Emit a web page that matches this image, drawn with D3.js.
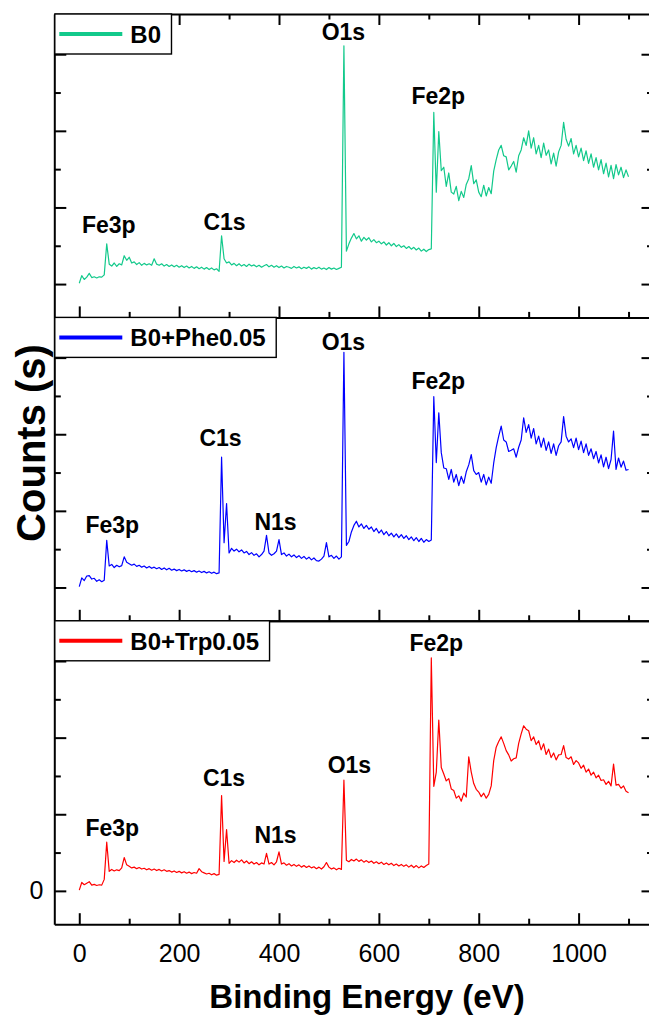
<!DOCTYPE html>
<html>
<head>
<meta charset="utf-8">
<script src="https://cdn.jsdelivr.net/npm/d3@7/dist/d3.min.js"></script>
<style>
  html, body { margin: 0; padding: 0; background: #fff; }
  svg { display: block; }
  text { font-family: "Liberation Sans", Arial, Helvetica, sans-serif; }
</style>
</head>
<body>
<svg id="chart" width="649" height="1015"></svg>
<script>
// XPS survey spectra, counts sampled on a 5 eV binding-energy grid (0 ... 1100 eV)
const energyStart = 0;
const energyStep = 5;

const countsB0 = [
  0.02, 0.22, 0.12, 0.18, 0.28, 0.17, 0.19, 0.16, 0.19, 0.18,
  0.24, 1.05, 0.52, 0.47, 0.55, 0.46, 0.53, 0.50, 0.74, 0.62,
  0.70, 0.55, 0.58, 0.51, 0.56, 0.49, 0.54, 0.50, 0.53, 0.49,
  0.66, 0.52, 0.49, 0.53, 0.47, 0.51, 0.46, 0.50, 0.45, 0.49,
  0.44, 0.48, 0.43, 0.47, 0.42, 0.46, 0.41, 0.45, 0.40, 0.44,
  0.39, 0.43, 0.38, 0.42, 0.37, 0.40, 0.33, 1.26, 0.66, 0.55,
  0.58, 0.50, 0.54, 0.48, 0.53, 0.47, 0.51, 0.46, 0.52, 0.47,
  0.50, 0.45, 0.49, 0.44, 0.48, 0.51, 0.45, 0.49, 0.44, 0.48,
  0.43, 0.47, 0.42, 0.46, 0.44, 0.41, 0.46, 0.42, 0.45, 0.40,
  0.44, 0.41, 0.45, 0.39, 0.43, 0.40, 0.44, 0.39, 0.42, 0.38,
  0.43, 0.39, 0.42, 0.38, 0.41, 0.44, 6.22, 0.86, 1.05, 1.20,
  1.32, 1.18, 1.26, 1.12, 1.22, 1.15, 1.21, 1.10, 1.16, 1.08,
  1.12, 1.05, 1.10, 1.02, 1.08, 1.00, 1.06, 0.98, 1.03, 0.96,
  1.00, 0.93, 0.98, 0.91, 0.96, 0.89, 0.94, 0.86, 0.91, 0.85,
  0.90, 0.92, 4.48, 2.40, 3.98, 2.96, 3.05, 2.55, 2.90, 2.40,
  2.35, 2.55, 2.18, 2.42, 2.26, 2.60, 2.75, 3.09, 2.62, 2.72,
  2.40, 2.28, 2.58, 2.30, 2.52, 2.36, 2.95, 3.25, 3.50, 3.62,
  3.35, 3.32, 2.98, 3.08, 3.20, 2.92, 3.35, 3.50, 3.82, 3.62,
  4.00, 3.55, 3.82, 3.40, 3.62, 3.30, 3.68, 3.36, 3.50, 3.14,
  3.42, 3.08, 3.45, 3.62, 4.22, 3.78, 3.60, 3.80, 3.40, 3.62,
  3.32, 3.55, 3.22, 3.48, 3.15, 3.40, 3.05, 3.30, 2.98, 3.25,
  2.88, 3.16, 2.80, 3.10, 2.75, 3.12, 2.85, 3.05, 2.78, 2.98,
  2.80
];

const countsPhe = [
  0.02, 0.25, 0.18, 0.30, 0.31, 0.22, 0.24, 0.16, 0.20, 0.15,
  0.19, 1.23, 0.56, 0.60, 0.52, 0.58, 0.54, 0.57, 0.80, 0.66,
  0.62, 0.58, 0.61, 0.55, 0.58, 0.53, 0.56, 0.51, 0.55, 0.50,
  0.53, 0.49, 0.52, 0.47, 0.51, 0.46, 0.50, 0.45, 0.48, 0.44,
  0.47, 0.43, 0.46, 0.42, 0.45, 0.41, 0.44, 0.40, 0.43, 0.39,
  0.42, 0.38, 0.41, 0.37, 0.40, 0.36, 0.38, 3.40, 1.17, 2.19,
  0.90, 1.02, 0.95, 1.00, 0.93, 0.98, 0.90, 0.94, 0.86, 0.91,
  0.84, 0.88, 0.80, 0.86, 0.95, 1.36, 0.90, 0.84, 0.88, 0.95,
  1.25, 0.86, 0.90, 0.82, 0.87, 0.80, 0.85, 0.78, 0.83, 0.76,
  0.81, 0.74, 0.79, 0.72, 0.77, 0.70, 0.69, 0.74, 0.82, 1.17,
  0.80, 0.84, 0.76, 0.82, 0.74, 0.80, 6.14, 1.10, 1.20, 1.45,
  1.62, 1.73, 1.58, 1.66, 1.54, 1.62, 1.52, 1.58, 1.46, 1.54,
  1.42, 1.50, 1.38, 1.46, 1.35, 1.42, 1.32, 1.40, 1.30, 1.38,
  1.28, 1.35, 1.25, 1.32, 1.22, 1.30, 1.20, 1.28, 1.18, 1.25,
  1.20, 1.24, 4.98, 3.26, 4.56, 3.52, 3.12, 3.10, 2.82, 3.08,
  2.75, 2.95, 2.66, 2.90, 2.72, 3.02, 3.20, 3.47, 3.05, 2.95,
  3.00, 2.75, 2.95, 2.68, 2.88, 2.72, 3.25, 3.65, 3.95, 4.21,
  3.85, 3.80, 3.55, 3.58, 3.62, 3.40, 3.66, 3.85, 4.43, 4.05,
  4.25, 3.90, 4.15, 3.75, 3.95, 3.66, 3.90, 3.58, 3.80, 3.50,
  3.75, 3.45, 3.70, 3.80, 4.46, 3.95, 3.80, 3.88, 3.65, 3.90,
  3.60, 3.82, 3.52, 3.75, 3.45, 3.62, 3.36, 3.55, 3.25, 3.46,
  3.15, 3.40, 3.10, 3.34, 4.08, 3.08, 3.38, 3.14, 3.30, 3.06,
  3.08
];

const countsTrp = [
  0.02, 0.22, 0.16, 0.20, 0.24, 0.15, 0.17, 0.14, 0.16, 0.15,
  0.30, 1.27, 0.51, 0.56, 0.52, 0.55, 0.53, 0.60, 0.87, 0.68,
  0.64, 0.60, 0.62, 0.58, 0.61, 0.57, 0.59, 0.55, 0.58, 0.54,
  0.57, 0.53, 0.56, 0.52, 0.55, 0.51, 0.53, 0.49, 0.52, 0.48,
  0.51, 0.47, 0.50, 0.46, 0.49, 0.45, 0.48, 0.46, 0.58, 0.50,
  0.47, 0.44, 0.46, 0.42, 0.45, 0.41, 0.43, 2.49, 0.77, 1.60,
  0.72, 0.79, 0.74, 0.80, 0.75, 0.81, 0.73, 0.78, 0.71, 0.76,
  0.70, 0.74, 0.68, 0.73, 0.70, 0.98, 0.70, 0.74, 0.68, 0.76,
  1.02, 0.70, 0.73, 0.67, 0.71, 0.65, 0.69, 0.64, 0.68, 0.62,
  0.66, 0.61, 0.65, 0.60, 0.63, 0.58, 0.62, 0.57, 0.63, 0.74,
  0.62, 0.57, 0.60, 0.55, 0.59, 0.56, 2.89, 0.80, 0.76, 0.82,
  0.78, 0.83, 0.77, 0.81, 0.75, 0.79, 0.74, 0.78, 0.72, 0.76,
  0.71, 0.75, 0.69, 0.73, 0.68, 0.72, 0.66, 0.70, 0.65, 0.69,
  0.64, 0.68, 0.62, 0.67, 0.61, 0.66, 0.60, 0.65, 0.61, 0.66,
  0.70, 6.08, 2.73, 3.10, 4.46, 3.22, 3.05, 2.87, 2.93, 2.66,
  2.62, 2.42, 2.48, 2.34, 2.55, 2.45, 3.50, 3.10, 2.80, 2.65,
  2.58, 2.46, 2.55, 2.42, 2.52, 2.74, 3.40, 3.75, 3.90, 4.02,
  3.85, 3.66, 3.55, 3.39, 3.45, 3.47, 3.85, 4.10, 4.31, 4.22,
  4.18, 3.92, 4.02, 3.82, 3.92, 3.68, 3.84, 3.56, 3.70, 3.48,
  3.60, 3.42, 3.55, 3.56, 3.79, 3.48, 3.44, 3.50, 3.30, 3.40,
  3.34, 3.20, 3.28, 3.10, 3.18, 3.02, 3.10, 2.95, 3.02, 2.88,
  2.90, 2.78, 2.86, 2.74, 3.31, 2.76, 2.78, 2.68, 2.74, 2.60,
  2.56
];

const sampleNames = ["B0", "B0+Phe0.05", "B0+Trp0.05"];
const sampleColors = ["#12c98b", "#0000ff", "#ff0000"];

// Peak annotations: [label, binding energy, counts level of the label baseline]
const peaksB0 = [["Fe3p", 59, 1.33], ["C1s", 291, 1.42], ["O1s", 529, 6.38], ["Fe2p", 719, 4.70]];
const peaksPhe = [["Fe3p", 66, 1.42], ["C1s", 283, 3.68], ["N1s", 393, 1.51], ["O1s", 529, 6.19], ["Fe2p", 719, 5.18]];
const peaksTrp = [["Fe3p", 66, 1.42], ["C1s", 290, 2.75], ["N1s", 393, 1.25], ["O1s", 541, 3.08], ["Fe2p", 715, 6.25]];

const xMajorTicks = [0, 200, 400, 600, 800, 1000];
const xMinorTicks = [100, 300, 500, 700, 900, 1100];
const yMajorTicks = [0, 2, 4, 6];
const yMinorTicks = [1, 3, 5];

const xTitle = "Binding Energy (eV)";
const yTitle = "Counts (s)";

// ---- layout ----
const svg = d3.select("#chart");
const left = 54.3, right = 653.5;
const top0 = 14, panelH = 303.4;
const fontFamily = '"Liberation Sans", Arial, Helvetica, sans-serif';

const x = d3.scaleLinear().domain([-50, 1150]).range([left, right]);

const panels = [
  { name: sampleNames[0], color: sampleColors[0], values: countsB0, peaks: peaksB0 },
  { name: sampleNames[1], color: sampleColors[1], values: countsPhe, peaks: peaksPhe },
  { name: sampleNames[2], color: sampleColors[2], values: countsTrp, peaks: peaksTrp }
];

function styleAxis(g, width) {
  g.selectAll("path.domain").attr("stroke", "#000").attr("stroke-width", width);
  g.selectAll(".tick line").attr("stroke", "#000").attr("stroke-width", 2);
}

panels.forEach((p, i) => {
  const pt = top0 + i * panelH;
  const pb = pt + panelH;
  const y = d3.scaleLinear().domain([-0.87, 7.05]).range([pb, pt]);
  const isLast = i === panels.length - 1;

  const points = p.values.map((v, k) => [energyStart + k * energyStep, v]);

  const clipId = "clip" + i;
  svg.append("clipPath").attr("id", clipId)
    .append("rect").attr("x", left).attr("y", pt).attr("width", right - left).attr("height", panelH);

  const line = d3.line().x(d => x(d[0])).y(d => y(d[1]));
  svg.append("path")
    .datum(points)
    .attr("clip-path", `url(#${clipId})`)
    .attr("fill", "none")
    .attr("stroke", p.color)
    .attr("stroke-width", 1.2)
    .attr("stroke-linejoin", "round")
    .attr("d", line);

  // peak labels
  svg.append("g").selectAll("text").data(p.peaks).join("text")
    .attr("x", d => x(d[1]))
    .attr("y", d => y(d[2]))
    .attr("text-anchor", "middle")
    .attr("font-family", fontFamily)
    .attr("font-weight", "bold")
    .attr("font-size", 23)
    .attr("fill", "#000")
    .text(d => d[0]);

  // left axis (inward ticks)
  const gl = svg.append("g").attr("transform", `translate(${left},0)`);
  gl.call(d3.axisLeft(y).tickValues(yMajorTicks).tickSize(-12).tickSizeOuter(0).tickPadding(11)
    .tickFormat(d => (isLast && d === 0) ? "0" : ""));
  gl.append("g").call(d3.axisLeft(y).tickValues(yMinorTicks).tickSize(-6.5).tickSizeOuter(0).tickFormat(""))
    .call(g => g.select("path.domain").remove());
  styleAxis(gl, 2);
  gl.selectAll("text").attr("font-family", fontFamily).attr("font-size", 25).attr("fill", "#000");

  // right axis
  const gr = svg.append("g").attr("transform", `translate(${right},0)`);
  gr.call(d3.axisRight(y).tickValues(yMajorTicks).tickSize(-12).tickSizeOuter(0).tickFormat(""));
  gr.append("g").call(d3.axisRight(y).tickValues(yMinorTicks).tickSize(-6.5).tickSizeOuter(0).tickFormat(""))
    .call(g => g.select("path.domain").remove());
  styleAxis(gr, 2);

  // bottom axis of the panel (ticks pointing up)
  const gb = svg.append("g").attr("transform", `translate(0,${pb})`);
  gb.call(d3.axisBottom(x).tickValues(xMajorTicks).tickSize(-11).tickSizeOuter(0).tickPadding(19.6)
    .tickFormat(isLast ? d3.format("d") : () => ""));
  gb.append("g").call(d3.axisBottom(x).tickValues(xMinorTicks).tickSize(-5.5).tickSizeOuter(0).tickFormat(""))
    .call(g => g.select("path.domain").remove());
  styleAxis(gb, 2);
  gb.selectAll("text").attr("font-family", fontFamily).attr("font-size", 25).attr("fill", "#000");

  // top edge: ticks only on the first panel
  const gt = svg.append("g").attr("transform", `translate(0,${pt})`);
  if (i === 0) {
    gt.call(d3.axisTop(x).tickValues(xMajorTicks).tickSize(-11).tickSizeOuter(0).tickFormat(""));
    gt.append("g").call(d3.axisTop(x).tickValues(xMinorTicks).tickSize(-5.5).tickSizeOuter(0).tickFormat(""))
      .call(g => g.select("path.domain").remove());
  } else {
    gt.call(d3.axisTop(x).tickValues([]).tickSizeOuter(0));
  }
  styleAxis(gt, 2);

  // legend
  const lg = svg.append("g");
  const legText = lg.append("text")
    .attr("x", left + 76)
    .attr("y", pt + 29)
    .attr("font-family", fontFamily)
    .attr("font-weight", "bold")
    .attr("font-size", 24)
    .attr("fill", "#000")
    .text(p.name);
  const tw = legText.node().getComputedTextLength();
  lg.insert("rect", "text")
    .attr("x", left + 0.5)
    .attr("y", pt)
    .attr("width", 76 + tw + 10)
    .attr("height", 40)
    .attr("fill", "#fff")
    .attr("stroke", "#000")
    .attr("stroke-width", 1.4);
  lg.insert("line", "text")
    .attr("x1", left + 5).attr("x2", left + 68)
    .attr("y1", pt + 20).attr("y2", pt + 20)
    .attr("stroke", p.color)
    .attr("stroke-width", 4);
});

// axis titles
svg.append("text")
  .attr("x", 367)
  .attr("y", 1008)
  .attr("text-anchor", "middle")
  .attr("font-family", fontFamily)
  .attr("font-weight", "bold")
  .attr("font-size", 33)
  .attr("fill", "#000")
  .text(xTitle);

svg.append("text")
  .attr("transform", "translate(45,443) rotate(-90)")
  .attr("text-anchor", "middle")
  .attr("font-family", fontFamily)
  .attr("font-weight", "bold")
  .attr("font-size", 40)
  .attr("fill", "#000")
  .text(yTitle);
</script>
</body>
</html>
